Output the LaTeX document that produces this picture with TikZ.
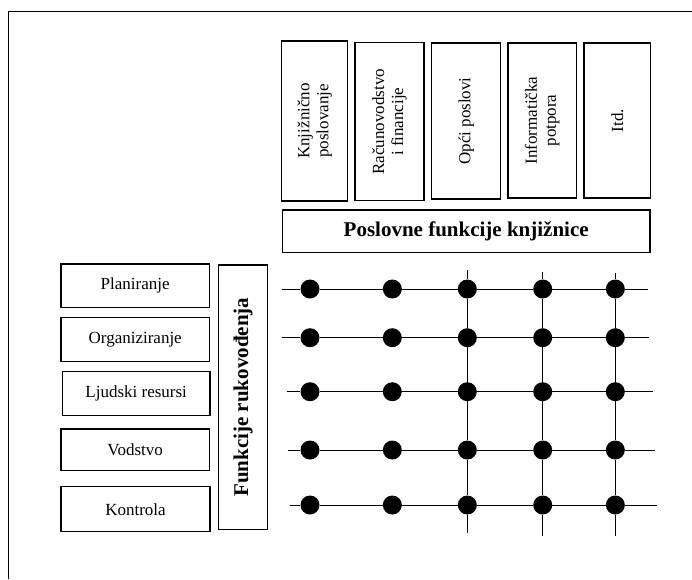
\documentclass[tikz,border=0pt]{standalone}
\usepackage{fontspec}
\setmainfont{Liberation Serif}
\usepackage{tikz}

\tikzset{
    funcbox/.style={draw, line width=1.2pt, inner sep=0pt, align=center,
        font=\fontsize{17}{19}\selectfont},
    headbox/.style={funcbox, font=\fontsize{21}{23}\selectfont\bfseries},
    dot/.style={circle, fill=black, inner sep=0pt, minimum size=19pt},
    grid line/.style={line width=0.9pt}
}

\begin{document}
\begin{tikzpicture}[x=1pt, y=-1pt]
    \useasboundingbox (0,0) rectangle (692,579);
    % frame
    \coordinate (frameR) at (692,11);
    \coordinate (frameTL) at (8,11);
    \coordinate (frameB) at (8,579);
    \draw[line width=1pt] (frameR) -- (frameTL) -- (frameB);

    % business functions
    \node[funcbox, rotate=90, minimum width=160, minimum height=66] (knjiz) at (314.7,121) {Knjižnično\\poslovanje};
    \node[funcbox, rotate=90, minimum width=158, minimum height=69] (racun) at (389.5,121.7) {Računovodstvo\\i financije};
    \node[funcbox, rotate=90, minimum width=156, minimum height=69] (opci) at (466.2,121) {Opći poslovi};
    \node[funcbox, rotate=90, minimum width=155, minimum height=68.7] (infor) at (542.3,120.5) {Informatička\\potpora};
    \node[funcbox, rotate=90, minimum width=155, minimum height=66.7] (itd) at (617.3,120.5) {Itd.};
    \node[headbox, minimum width=367.7, minimum height=42.7] (poslovne) at (466.2,231.4) {Poslovne funkcije knjižnice};

    % management functions
    \node[funcbox, minimum width=148.3, minimum height=43.7] (plan) at (135.2,285.8) {Planiranje};
    \node[funcbox, minimum width=148.3, minimum height=44] (organ) at (135.2,339.7) {Organiziranje};
    \node[funcbox, minimum width=147.7, minimum height=44] (ljudi) at (136.2,393.7) {Ljudski resursi};
    \node[funcbox, minimum width=148.3, minimum height=41.7] (vods) at (135.2,449.8) {Vodstvo};
    \node[funcbox, minimum width=149, minimum height=45] (kontr) at (135.5,509.2) {Kontrola};
    \node[headbox, rotate=90, minimum width=264.3, minimum height=49.4] (rukov) at (243,397.2) {Funkcije rukovođenja};

    % matrix of dots
    \foreach \r/\y/\xa/\xb in {1/289/281.7/648.3, 2/337.7/282.3/649.3, 3/391.7/286.7/653.3, 4/450/288/655, 5/505/290/656.7} {
        \coordinate (rowL\r) at (\xa,\y);
        \coordinate (rowR\r) at (\xb,\y);
        \foreach \c/\x in {1/310, 2/392.3, 3/467.3, 4/542.7, 5/615.3}
            \node[dot] (d\r\c) at (\x,\y) {};
        \draw[grid line] (rowL\r) -- (d\r1) -- (d\r2) -- (d\r3) -- (d\r4) -- (d\r5) -- (rowR\r);
    }
    \foreach \c/\x/\ya/\yb in {3/467.3/270/533.3, 4/542.7/271.7/536, 5/615.3/272.7/536} {
        \coordinate (colT\c) at (\x,\ya);
        \coordinate (colB\c) at (\x,\yb);
        \draw[grid line] (colT\c) -- (d1\c) -- (d2\c) -- (d3\c) -- (d4\c) -- (d5\c) -- (colB\c);
    }
\end{tikzpicture}
\end{document}
